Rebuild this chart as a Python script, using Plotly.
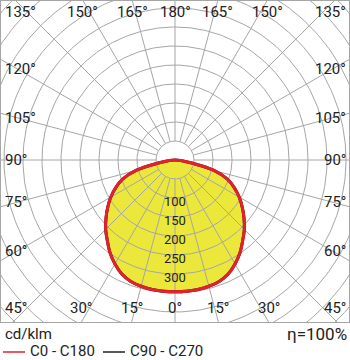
import numpy as np
import plotly.graph_objects as go

# ---------------- data ----------------
gamma_deg = [0, 5, 10, 15, 20, 25, 30, 35, 40, 45, 50, 55, 60, 65, 70, 75, 80, 85, 90]
c0_c180 = [347, 347, 346, 344, 340, 331, 316, 298, 277, 258, 237, 216, 195, 172, 146, 106, 42, 15, 0]
c90_c270 = [347, 347, 346, 344, 340, 331, 316, 298, 277, 258, 237, 216, 195, 172, 146, 106, 42, 15, 0]
radial_labels = [100, 150, 200, 250, 300]
grid_radii = list(range(50, 751, 50))
spoke_step = 15
angle_labels = [0, 15, 30, 45, 60, 75, 90, 105, 120, 135, 150, 165, 180]
unit_text = "cd/klm"
eff_text = "η=100%"
series_names = ["C0 - C180", "C90 - C270"]
series_colors = ["#e6202a", "#222222"]

# ---------------- layout geometry ----------------
W, H = 350, 360
ML, MR, MT, MB = 1, 1, 1, 38
CX, CY = 175.0, 160.0          # pixel position of the pole
S = 0.38                        # pixels per cd/klm
x0 = (ML - CX) / S
x1 = (W - MR - CX) / S
y1 = (CY - MT) / S
y0 = (CY - (H - MB)) / S

GRID = "#a6a6a6"
TXT = "#222222"
FONT = "Roboto"


def to_xy(vals, angs, side):
    a = np.radians(np.asarray(angs, float))
    r = np.asarray(vals, float)
    return side * r * np.sin(a), -r * np.cos(a)


def full_curve(vals):
    xr, yr = to_xy(vals, gamma_deg, 1)
    xl, yl = to_xy(vals[::-1], gamma_deg[::-1], -1)
    xs = np.concatenate([xl, xr[1:]])
    ys = np.concatenate([yl, yr[1:]])
    return xs, ys


fig = go.Figure()

# yellow fill (below the grid)
fx, fy = full_curve(c0_c180)
fig.add_trace(go.Scatter(x=fx, y=fy, mode="lines", fill="toself",
                         fillcolor="#ebe83b", line=dict(width=0, shape="spline"),
                         hoverinfo="skip", showlegend=False))

# grid circles
gx, gy = [], []
t = np.linspace(0, 2 * np.pi, 361)
for r in grid_radii:
    gx += list(r * np.cos(t)) + [None]
    gy += list(r * np.sin(t)) + [None]
# spokes
for a in range(0, 360, spoke_step):
    ar = np.radians(a)
    gx += [50 * np.sin(ar), 800 * np.sin(ar), None]
    gy += [-50 * np.cos(ar), -800 * np.cos(ar), None]
fig.add_trace(go.Scatter(x=gx, y=gy, mode="lines", line=dict(color=GRID, width=1),
                         hoverinfo="skip", showlegend=False))

# curves: C90-C270 below, C0-C180 on top
for vals, name, col in [(c90_c270, series_names[1], series_colors[1]),
                        (c0_c180, series_names[0], series_colors[0])]:
    xs, ys = full_curve(vals)
    fig.add_trace(go.Scatter(x=xs, y=ys, mode="lines", name=name,
                             line=dict(color=col, width=3, shape="spline"),
                             showlegend=False))

annotations = []
# radial value labels
for v in radial_labels:
    annotations.append(dict(x=0, y=-v, xref="x", yref="y", text=str(v),
                            showarrow=False, yshift=-3,
                            font=dict(family=FONT, size=13, color=TXT)))

# angle labels at the frame edges
L_IN, R_IN = 18, W - 18
T_IN, B_IN = 12, H - MB - 14
box_l, box_r, box_t, box_b = 0, W - 1, 0, H - MB
for a in angle_labels:
    for side in ([1] if a in (0, 180) else [-1, 1]):
        ar = np.radians(a)
        dx, dy = side * np.sin(ar), np.cos(ar)  # pixel direction (y down)
        ts = []
        if abs(dx) > 1e-9:
            ts.append(((L_IN if dx < 0 else R_IN) - CX) / dx)
        if abs(dy) > 1e-9:
            ts.append(((box_b if dy > 0 else box_t) - CY) / dy)
        tt = min(ts)
        px, py = CX + tt * dx, CY + tt * dy
        py = min(max(py, T_IN), B_IN)
        if px < 30:
            xa, px = "left", 3
        elif px > W - 30:
            xa, px = "right", W - 2
        else:
            xa = "center"
        annotations.append(dict(x=(px - CX) / S, y=(CY - py) / S, xref="x", yref="y",
                                text=f"{a}°", showarrow=False, xanchor=xa,
                                yanchor="middle",
                                font=dict(family=FONT, size=15, color=TXT)))


def paper(px, py):
    return (px - ML) / (W - ML - MR), (H - MB - py) / (H - MT - MB)


ux, uy = paper(3, 334)
annotations.append(dict(x=ux, y=uy, xref="paper", yref="paper", text=unit_text,
                        showarrow=False, xanchor="left", yanchor="middle",
                        font=dict(family=FONT, size=15, color=TXT)))
ex, ey = paper(W - 1, 334)
annotations.append(dict(x=ex, y=ey, xref="paper", yref="paper", text=eff_text,
                        showarrow=False, xanchor="right", yanchor="middle",
                        font=dict(family=FONT, size=17, color=TXT)))

# hand-made legend
shapes = []
lx = 3
for name, col in zip(series_names, series_colors):
    sx0, sy = paper(lx, 352)
    sx1, _ = paper(lx + 22, 352)
    shapes.append(dict(type="line", xref="paper", yref="paper", x0=sx0, x1=sx1,
                       y0=sy, y1=sy, line=dict(color=col, width=1.5)))
    tx, ty = paper(lx + 25, 351)
    annotations.append(dict(x=tx, y=ty, xref="paper", yref="paper", text=name,
                            showarrow=False, xanchor="left", yanchor="middle",
                            font=dict(family=FONT, size=15, color=TXT)))
    lx += 100

fig.update_layout(
    width=W, height=H, margin=dict(l=ML, r=MR, t=MT, b=MB),
    paper_bgcolor="white", plot_bgcolor="white",
    xaxis=dict(range=[x0, x1], showgrid=False, zeroline=False, showticklabels=False,
               ticks="", showline=True, linecolor=GRID, linewidth=1, mirror=True,
               fixedrange=True),
    yaxis=dict(range=[y0, y1], showgrid=False, zeroline=False, showticklabels=False,
               ticks="", showline=True, linecolor=GRID, linewidth=1, mirror=True,
               fixedrange=True),
    annotations=annotations, shapes=shapes, showlegend=False,
)

fig.write_html("out.html")
